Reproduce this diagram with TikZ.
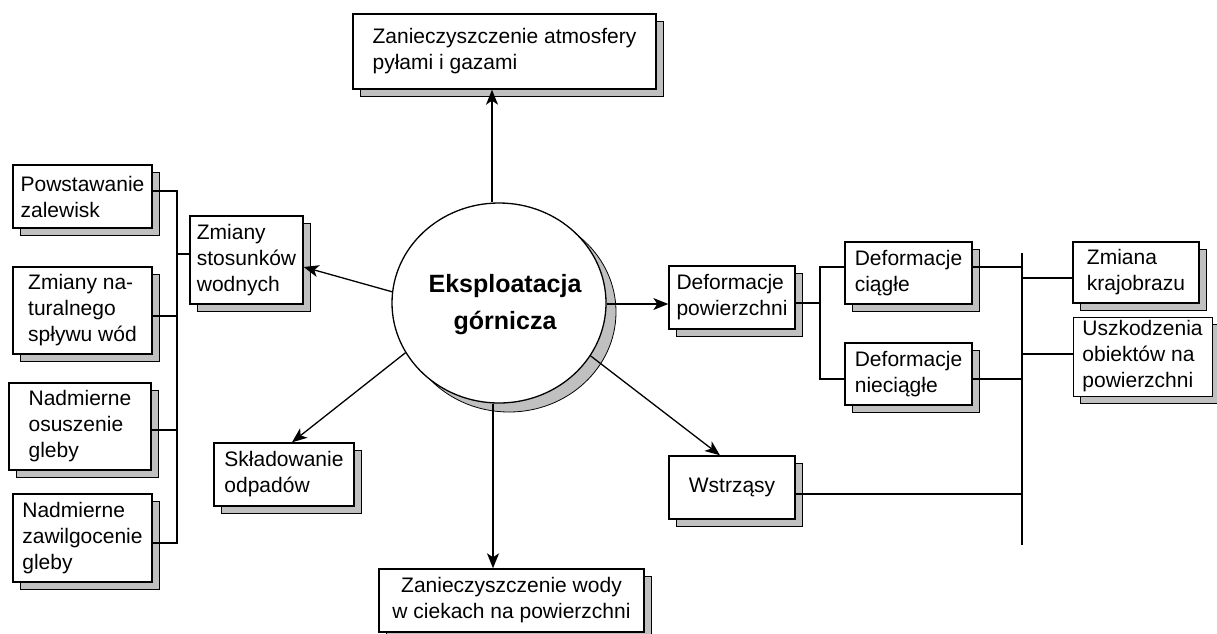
\documentclass[tikz,border=0pt]{standalone}
\usepackage{fontspec}
\setmainfont{Liberation Sans}
\usetikzlibrary{shapes.geometric,shadows,arrows.meta}
\definecolor{shgray}{RGB}{192,192,192}
\tikzset{
  x=1pt, y=-1pt,
  box/.style={draw=black, line width=1.4pt, fill=white, inner sep=0pt, align=left,
    font=\fontsize{21}{26}\selectfont,
    drop shadow={shadow xshift=7pt, shadow yshift=-7pt, fill=shgray, draw=black, line width=0.7pt, opacity=1}},
  conn/.style={line width=1.3pt},
  bus/.style={line width=2pt},
  arr/.style={line width=1.3pt, -{Stealth[length=15pt,width=12pt,inset=4pt]}},
}
\begin{document}
\begin{tikzpicture}
\useasboundingbox (0,0) rectangle (1217,633);
% centre
\node[ellipse, draw=black, line width=1.3pt, fill=white, minimum width=214pt, minimum height=200pt, inner sep=0pt,
  drop shadow={shadow xshift=10pt, shadow yshift=-9pt, fill=shgray, draw=black, line width=0.8pt, opacity=1}]
  (circ) at (499,303) {};
\node[align=center, inner sep=0pt, font=\bfseries\fontsize{25}{37}\selectfont] (circtext) at (505,305) {Eksploatacja\\górnicza};
% boxes
\node[box, minimum width=303pt, minimum height=75pt] (top) at (504.5,51.5) {Zanieczyszczenie atmosfery\\pyłami i gazami};
\node[box, minimum width=265pt, minimum height=63pt, align=center] (bot) at (511.5,600.5) {Zanieczyszczenie wody\\w ciekach na powierzchni};
\node[box, minimum width=139pt, minimum height=63pt] (pow) at (82.5,196.5) {Powstawanie\\zalewisk};
\node[box, minimum width=139pt, minimum height=87pt] (nat) at (82.5,310.5) {Zmiany na-\\turalnego\\spływu wód};
\node[box, minimum width=142pt, minimum height=87pt] (osu) at (80,426.5) {Nadmierne\\osuszenie\\gleby};
\node[box, minimum width=139pt, minimum height=88pt] (zaw) at (82.5,538) {Nadmierne\\zawilgocenie\\gleby};
\node[box, minimum width=113pt, minimum height=88pt] (stos) at (246.5,260) {Zmiany\\stosunków\\wodnych};
\node[box, minimum width=140pt, minimum height=63pt] (skl) at (284,474.5) {Składowanie\\odpadów};
\node[box, minimum width=126pt, minimum height=63pt] (defp) at (732,297.5) {Deformacje\\powierzchni};
\node[box, minimum width=127pt, minimum height=62pt] (dc) at (908.5,273) {Deformacje\\ciągłe};
\node[box, minimum width=127pt, minimum height=62pt] (dn) at (908.5,374) {Deformacje\\nieciągłe};
\node[box, minimum width=126pt, minimum height=61pt] (zk) at (1136,272.5) {Zmiana\\krajobrazu};
\node[box, line width=0.8pt, minimum width=139pt, minimum height=79pt] (usz) at (1142.5,356.5) {Uszkodzenia\\obiektów na\\powierzchni};
\node[box, minimum width=126pt, minimum height=63pt] (wst) at (732,487.5) {Wstrząsy};
% bus coordinates
\coordinate (bx) at (177,0);
\coordinate (b2) at (820,0);
\coordinate (bt) at (1022,253);
\coordinate (bb) at (1022,545);
% left bracket
\draw[conn] ([yshift=5.5pt]pow.east) -- ([yshift=5.5pt]pow.east -| bx) -- ([yshift=-5pt]zaw.east -| bx) -- ([yshift=-5pt]zaw.east);
\draw[conn] ([yshift=-5.5pt]nat.east) -- ([yshift=-5.5pt]nat.east -| bx);
\draw[conn] ([yshift=-3.5pt]osu.east) -- ([yshift=-3.5pt]osu.east -| bx);
\draw[conn] ([yshift=6pt]stos.west) -- ([yshift=6pt]stos.west -| bx);
% deformation tree
\draw[conn] ([yshift=-5.5pt]defp.east) -- ([yshift=-5.5pt]defp.east -| b2);
\draw[conn] ([yshift=6pt]dc.west) -- ([yshift=6pt]dc.west -| b2) -- ([yshift=-5pt]dn.west -| b2) -- ([yshift=-5pt]dn.west);
\draw[bus] (bt) -- (bb);
\draw[conn] ([yshift=6pt]dc.east) -- ([yshift=6pt]dc.east -| bt);
\draw[conn] ([yshift=-5pt]dn.east) -- ([yshift=-5pt]dn.east -| bt);
\draw[conn] ([yshift=-5.5pt]zk.west) -- ([yshift=-5.5pt]zk.west -| bt);
\draw[conn] ([yshift=2.5pt]usz.west) -- ([yshift=2.5pt]usz.west -| bt);
\draw[conn] ([yshift=-6.5pt]wst.east) -- ([yshift=-6.5pt]wst.east -| bt);
% arrows
\draw[arr] ([xshift=-7pt]circ.north) -- ([xshift=-7pt]circ.north |- top.south);
\draw[arr] ([xshift=-6pt]circ.south) -- ([xshift=-6pt]circ.south |- bot.north);
\draw[arr] ([yshift=-1pt]circ.east) -- ([yshift=-1pt]circ.east -| defp.west);
\draw[arr] (circ.174) -- ([yshift=-7pt]stos.east);
\draw[arr] (circ.208) -- ([xshift=8pt]skl.north);
\draw[arr] (circ.330) -- ([xshift=-12pt]wst.north);
\end{tikzpicture}
\end{document}
